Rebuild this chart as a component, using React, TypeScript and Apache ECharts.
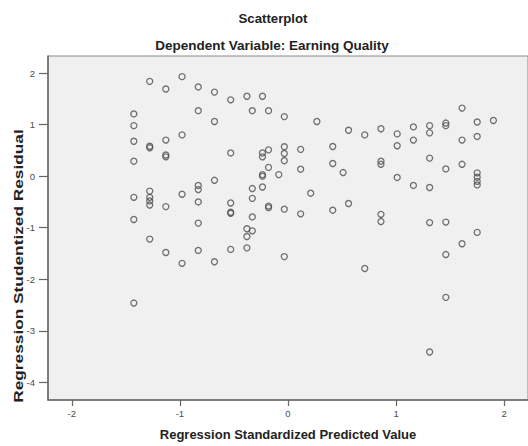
import React, { useEffect, useRef } from "react";
import * as echarts from "echarts";

// Regression standardized predicted value (x) and studentized residual (y)
const predicted: number[] = [
  -1.426, -1.426, -1.426, -1.426, -1.426, -1.426, -1.426,
  -1.279, -1.279, -1.279, -1.279, -1.279, -1.279, -1.279, -1.279,
  -1.13, -1.13, -1.13, -1.13, -1.13, -1.13,
  -0.98, -0.98, -0.98, -0.98,
  -0.83, -0.83, -0.83, -0.83, -0.83, -0.83, -0.83,
  -0.68, -0.68, -0.68, -0.68,
  -0.53, -0.53, -0.53, -0.53, -0.53, -0.53,
  -0.38, -0.38, -0.38, -0.38,
  -0.33, -0.33, -0.33, -0.33, -0.33,
  -0.236, -0.236, -0.236, -0.236, -0.236, -0.236,
  -0.18, -0.18, -0.18, -0.18, -0.18,
  -0.085,
  -0.034, -0.034, -0.034, -0.034, -0.034, -0.034,
  0.117, 0.117, 0.117,
  0.21, 0.267,
  0.414, 0.414, 0.414,
  0.51, 0.56, 0.56,
  0.71, 0.71,
  0.86, 0.86, 0.86, 0.86, 0.86,
  1.01, 1.01, 1.01,
  1.16, 1.16, 1.16,
  1.31, 1.31, 1.31, 1.31, 1.31, 1.31,
  1.46, 1.46, 1.46, 1.46, 1.46, 1.46,
  1.61, 1.61, 1.61, 1.61,
  1.75, 1.75, 1.75, 1.75, 1.75, 1.75, 1.75,
  1.9,
];

const residual: number[] = [
  1.207, 0.98, 0.677, 0.29, -0.41, -0.84, -2.46,
  1.838, 0.58, 0.55, -0.29, -0.41, -0.48, -0.56, -1.22,
  1.69, 0.7, 0.41, 0.375, -0.59, -1.48,
  1.93, 0.8, -0.35, -1.69,
  1.73, 1.27, -0.18, -0.26, -0.5, -0.91, -1.44,
  1.63, 1.06, -0.08, -1.66,
  1.48, 0.45, -0.52, -0.7, -0.72, -1.42,
  1.55, -1.02, -1.17, -1.39,
  1.27, -0.24, -0.43, -0.79, -1.06,
  1.55, 0.45, 0.375, 0.03, 0.0, -0.21,
  1.27, 0.51, 0.17, -0.58, -0.61,
  0.03,
  1.155, 0.57, 0.44, 0.3, -0.64, -1.56,
  0.52, 0.135, -0.73,
  -0.33, 1.06,
  0.575, 0.245, -0.66,
  0.07, 0.89, -0.53,
  0.8, -1.79,
  0.92, 0.29, 0.23, -0.74, -0.88,
  0.82, 0.59, -0.025,
  0.955, 0.7, -0.18,
  0.98, 0.84, 0.35, -0.22, -0.9, -3.41,
  1.03, 0.98, 0.14, -0.89, -1.52, -2.35,
  1.32, 0.7, 0.23, -1.31,
  1.05, 0.77, 0.065, -0.02, -0.1, -0.17, -1.09,
  1.08,
];

const xTicks: number[] = [-2, -1, 0, 1, 2];
const yTicks: number[] = [-4, -3, -2, -1, 0, 1, 2];

const titleText = "Scatterplot";
const subtitleText = "Dependent Variable: Earning Quality";
const xTitle = "Regression Standardized Predicted Value";
const yTitle = "Regression Studentized Residual";

const FONT = '"Liberation Sans", Arial, sans-serif';

export default function App() {
  const ref = useRef<HTMLDivElement>(null);

  useEffect(() => {
    document.body.style.margin = "0";
    if (!ref.current) return;
    const chart = echarts.init(ref.current, undefined, { renderer: "svg" });
    const points = predicted.map((x, i) => [x, residual[i]]);
    chart.setOption({
      animation: false,
      backgroundColor: "#ffffff",
      title: [
        {
          text: titleText,
          left: 268,
          top: 7,
          textAlign: "center",
          textStyle: { fontFamily: FONT, fontSize: 13.2, fontWeight: "bold", color: "#222" },
        },
        {
          text: subtitleText,
          left: 267,
          top: 33,
          textAlign: "center",
          textStyle: { fontFamily: FONT, fontSize: 13.5, fontWeight: "bold", color: "#222" },
        },
      ],
      grid: {
        left: 48,
        right: -2,
        top: 56,
        bottom: 45,
        show: true,
        backgroundColor: "#f0f0f0",
        borderColor: "#8a8a8a",
        borderWidth: 1,
      },
      xAxis: {
        type: "value",
        min: -2.22,
        max: 2.22,
        splitLine: { show: false },
        axisLine: { show: true, onZero: false, lineStyle: { color: "#666", width: 1.5 } },
        axisTick: { show: true, length: 6, customValues: xTicks, lineStyle: { color: "#666", width: 1.2 } },
        axisLabel: {
          customValues: xTicks,
          margin: 8,
          fontFamily: FONT,
          fontSize: 9.5,
          color: "#4a4a4a",
        },
        name: xTitle,
        nameLocation: "middle",
        nameGap: 28,
        nameTextStyle: { fontFamily: FONT, fontSize: 13, fontWeight: "bold", color: "#222" },
      },
      yAxis: {
        type: "value",
        min: -4.34,
        max: 2.33,
        splitLine: { show: false },
        axisLine: { show: true, onZero: false, lineStyle: { color: "#666", width: 1.5 } },
        axisTick: { show: true, length: 9, customValues: yTicks, lineStyle: { color: "#666", width: 1.2 } },
        axisLabel: {
          customValues: yTicks,
          margin: 13,
          fontFamily: FONT,
          fontSize: 9.5,
          color: "#4a4a4a",
        },
      },
      graphic: [
        {
          type: "text",
          x: 18,
          y: 266,
          rotation: Math.PI / 2,
          scaleX: 1.33,
          style: {
            text: yTitle,
            font: `bold 13px ${FONT}`,
            fill: "#222",
            align: "center",
            verticalAlign: "middle",
          },
        },
      ],
      series: [
        {
          type: "scatter",
          data: points,
          symbol: "circle",
          symbolSize: 6,
          itemStyle: { color: "rgba(0,0,0,0)", borderColor: "#4d4d4d", borderWidth: 1.3 },
        },
      ],
    });
    return () => chart.dispose();
  }, []);

  return (
    <div
      ref={ref}
      style={{ position: "absolute", left: 0, top: 0, width: 528, height: 446 }}
    />
  );
}
